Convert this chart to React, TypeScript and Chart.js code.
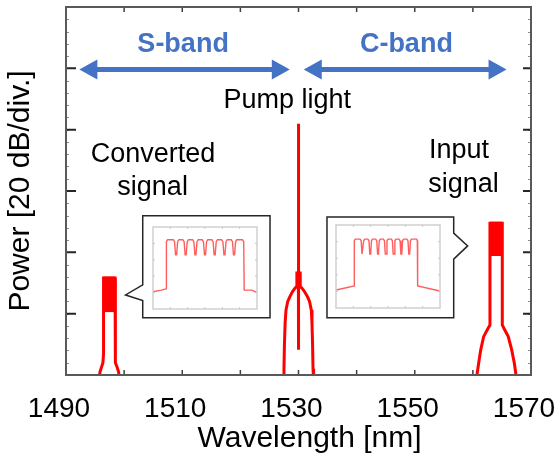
import React, { useEffect, useRef } from 'react';
import { Chart, registerables } from 'chart.js';

Chart.register(...registerables);

const FONT = '"Liberation Sans", Arial, Helvetica, sans-serif';
const RED = '#ff0000';
const BLUE = '#4472c4';

// ---- axis definition ----
const xTickValues = [1490, 1500, 1510, 1520, 1530, 1540, 1550, 1560, 1570];
const xTickLabels = ['1490', '1510', '1530', '1550', '1570'];
const yTickValues = [0, 20, 40, 60, 80, 100, 120];
const yMinorStep = 4;
const xTitle = 'Wavelength [nm]';
const xTitleWl = 1531.9;
const xTitlePow = -23.5;

// ---- converted signal (S-band) ----
const convWl = [1495.65, 1495.85, 1496.1, 1496.35, 1496.46, 1496.46, 1498.44, 1498.44, 1498.55, 1498.8, 1499.05, 1499.25];
const convPow = [-2, 1, 2.5, 4, 7, 31.6, 31.6, 7, 4, 2.5, 1, -2];
const convCombWl = [1496.46, 1498.44];
const convCombTop = [31.6, 31.6];
const convCombBottom = [21.0, 21.0];

// ---- pump light ----
const pumpWl = [1527.4, 1527.5, 1527.58, 1527.7, 1527.85, 1528.15, 1528.5, 1529.0, 1529.4, 1529.7, 1529.72, 1529.98, 1529.99, 1530.01, 1530.02, 1530.28, 1530.3, 1530.6, 1531.0, 1531.55, 1531.9, 1532.2, 1532.32, 1532.42, 1532.5, 1532.6];
const pumpPow = [-2, 2, 10, 17, 21.2, 24, 25.5, 27.3, 28.3, 28.9, 33.3, 33.3, 81.9, 8.2, 33.3, 33.3, 28.9, 28.3, 27.3, 25.5, 24, 21.2, 17, 10, 2, -2];

// ---- input signal (C-band) ----
const inWl = [1560.65, 1560.75, 1561.0, 1561.35, 1561.85, 1562.55, 1562.94, 1562.94, 1565.06, 1565.06, 1565.4, 1566.09, 1566.68, 1567.13, 1567.37, 1567.45];
const inPow = [-2, 0.65, 3.9, 8.2, 12.5, 15, 16.3, 49.5, 49.5, 16.3, 15, 12.5, 8.2, 3.9, 0.65, -2];
const inCombWl = [1562.94, 1565.06];
const inCombTop = [49.5, 49.5];
const inCombBottom = [39.3, 39.3];

// ---- band arrows ----
const bandNames = ['S-band', 'C-band'];
const bandFrom = [1492.3, 1530.9];
const bandTo = [1528.5, 1565.8];
const bandLevel = 99.6;
const bandLabelWl = [1510.15, 1548.56];
const bandLabelPow = 105.4;

// ---- annotation texts ----
const noteTexts = ['Pump light', 'Converted', 'signal', 'Input', 'signal'];
const noteWl = [1528.06, 1504.98, 1504.9, 1557.6, 1558.4];
const notePow = [87.1, 69.5, 58.8, 70.9, 59.6];

// ---- inset callouts (data coords of main chart) ----
const convBoxWl = [1503.2, 1525.1];
const convBoxPow = [51.9, 18.7];
const convPointer = { wl: 1500.25, pow: 26.1, notchTop: 29.4, notchBottom: 24.25 };
const convFrameWl = [1505.0, 1522.9];
const convFramePow = [48.4, 21.5];

const inBoxWl = [1534.9, 1556.7];
const inBoxPow = [51.5, 18.7];
const inPointer = { wl: 1559.1, pow: 42.1, notchTop: 46.25, notchBottom: 37.8 };
const inFrameWl = [1536.4, 1554.3];
const inFramePow = [49.0, 21.9];

// ---- inset spectra (relative units 0..10) ----
const convInsetX = [0, 0.8, 1.25, 1.29, 1.4, 1.95, 2.07, 2.17, 2.27, 2.37, 2.49, 2.87, 2.99, 3.09, 3.19, 3.29, 3.41, 3.81, 3.93, 4.03, 4.13, 4.23, 4.35, 4.73, 4.85, 4.95, 5.05, 5.15, 5.27, 5.66, 5.78, 5.88, 5.98, 6.08, 6.2, 6.6, 6.72, 6.82, 6.92, 7.02, 7.14, 7.52, 7.64, 7.74, 7.84, 7.94, 8.06, 8.6, 8.72, 8.77, 9.5, 10];
const convInsetY = [2.1, 2.3, 2.45, 8.2, 8.45, 8.45, 8.2, 6.6, 6.6, 8.2, 8.45, 8.45, 8.2, 6.6, 6.6, 8.2, 8.45, 8.45, 8.2, 6.6, 6.6, 8.2, 8.45, 8.45, 8.2, 6.6, 6.6, 8.2, 8.45, 8.45, 8.2, 6.6, 6.6, 8.2, 8.45, 8.45, 8.2, 6.6, 6.6, 8.2, 8.45, 8.45, 8.2, 6.6, 6.6, 8.2, 8.45, 8.45, 8.2, 2.3, 2.3, 2.0];

const inInsetX = [0, 1.76, 1.76, 1.85, 2.32, 2.42, 2.5, 2.58, 2.66, 2.76, 3.07, 3.17, 3.25, 3.33, 3.41, 3.51, 3.82, 3.92, 4.0, 4.08, 4.16, 4.26, 4.56, 4.66, 4.74, 4.82, 4.9, 5.0, 5.32, 5.42, 5.5, 5.58, 5.66, 5.76, 6.06, 6.16, 6.24, 6.32, 6.4, 6.5, 6.82, 6.92, 7.0, 7.08, 7.16, 7.26, 7.75, 7.82, 7.85, 10];
const inInsetY = [2.17, 2.65, 8.1, 8.3, 8.3, 8.1, 6.5, 6.5, 8.1, 8.3, 8.3, 8.1, 6.5, 6.5, 8.1, 8.3, 8.3, 8.1, 6.5, 6.5, 8.1, 8.3, 8.3, 8.1, 6.5, 6.5, 8.1, 8.3, 8.3, 8.1, 6.5, 6.5, 8.1, 8.3, 8.3, 8.1, 6.5, 6.5, 8.1, 8.3, 8.3, 8.1, 6.5, 6.5, 8.1, 8.3, 8.3, 8.1, 2.65, 2.05];
const insetTickX = [1.67, 3.33, 5, 6.67, 8.33];
const insetTickY = [2, 4, 6, 8];

const pts = (xs: number[], ys: number[]) => xs.map((x, i) => ({ x, y: ys[i] }));

const lineDs = (label: string, data: any[], extra: any = {}) => ({
  label,
  data,
  showLine: true,
  borderColor: RED,
  backgroundColor: RED,
  borderWidth: 3,
  pointRadius: 0,
  tension: 0,
  fill: false,
  clip: 0,
  ...extra,
});

const framePlugin = {
  id: 'frameTicks',
  afterDraw(chart: any) {
    const { ctx, chartArea: a, scales } = chart;
    const xs = scales.x, ys = scales.y;
    ctx.save();
    ctx.strokeStyle = '#8c8c8c';
    ctx.lineWidth = 1;
    for (let v = yTickValues[0]; v <= yTickValues[yTickValues.length - 1]; v += yMinorStep) {
      const y = Math.round(ys.getPixelForValue(v)) + 0.5;
      ctx.beginPath();
      ctx.moveTo(a.left, y); ctx.lineTo(a.left + 3, y);
      ctx.moveTo(a.right, y); ctx.lineTo(a.right - 3, y);
      ctx.stroke();
    }
    ctx.strokeStyle = '#262626';
    ctx.lineWidth = 2;
    yTickValues.forEach((v) => {
      const y = ys.getPixelForValue(v);
      ctx.beginPath();
      ctx.moveTo(a.left, y); ctx.lineTo(a.left + 10, y);
      ctx.moveTo(a.right, y); ctx.lineTo(a.right - 8, y);
      ctx.stroke();
    });
    ctx.strokeStyle = '#404040';
    ctx.lineWidth = 1.5;
    xTickValues.forEach((v) => {
      const x = xs.getPixelForValue(v);
      ctx.beginPath();
      ctx.moveTo(x, a.bottom); ctx.lineTo(x, a.bottom - 5);
      ctx.moveTo(x, a.top); ctx.lineTo(x, a.top + 5);
      ctx.stroke();
    });
    ctx.strokeStyle = '#595959';
    ctx.lineWidth = 2;
    ctx.strokeRect(a.left, a.top, a.right - a.left, a.bottom - a.top);

    // x axis title
    ctx.fillStyle = '#000';
    ctx.font = `30px ${FONT}`;
    ctx.textAlign = 'center';
    ctx.textBaseline = 'alphabetic';
    ctx.fillText(xTitle, xs.getPixelForValue(xTitleWl), ys.getPixelForValue(xTitlePow));
    ctx.restore();
  },
};

const annotationPlugin = {
  id: 'annotations',
  afterDatasetsDraw(chart: any) {
    const { ctx, scales } = chart;
    const xs = scales.x, ys = scales.y;
    const px = (v: number) => xs.getPixelForValue(v);
    const py = (v: number) => ys.getPixelForValue(v);
    ctx.save();
    ctx.fillStyle = BLUE;
    ctx.strokeStyle = BLUE;
    bandNames.forEach((name, i) => {
      const x1 = px(bandFrom[i]), x2 = px(bandTo[i]), y = py(bandLevel);
      const hl = 18, hw = 10;
      ctx.lineWidth = 5;
      ctx.beginPath();
      ctx.moveTo(x1 + hl - 2, y); ctx.lineTo(x2 - hl + 2, y);
      ctx.stroke();
      ctx.beginPath();
      ctx.moveTo(x1, y); ctx.lineTo(x1 + hl, y - hw); ctx.lineTo(x1 + hl, y + hw); ctx.closePath();
      ctx.fill();
      ctx.beginPath();
      ctx.moveTo(x2, y); ctx.lineTo(x2 - hl, y - hw); ctx.lineTo(x2 - hl, y + hw); ctx.closePath();
      ctx.fill();
      ctx.font = `bold 27px ${FONT}`;
      ctx.textAlign = 'center';
      ctx.textBaseline = 'alphabetic';
      ctx.fillText(name, px(bandLabelWl[i]), py(bandLabelPow));
    });
    ctx.fillStyle = '#000';
    ctx.font = `27px ${FONT}`;
    ctx.textAlign = 'center';
    ctx.textBaseline = 'alphabetic';
    noteTexts.forEach((t, i) => ctx.fillText(t, px(noteWl[i]), py(notePow[i])));

    ctx.fillStyle = '#fff';
    ctx.strokeStyle = '#262626';
    ctx.lineWidth = 1.5;
    {
      const L = px(convBoxWl[0]), R = px(convBoxWl[1]), T = py(convBoxPow[0]), B = py(convBoxPow[1]);
      ctx.beginPath();
      ctx.moveTo(L, T); ctx.lineTo(R, T); ctx.lineTo(R, B); ctx.lineTo(L, B);
      ctx.lineTo(L, py(convPointer.notchBottom));
      ctx.lineTo(px(convPointer.wl), py(convPointer.pow));
      ctx.lineTo(L, py(convPointer.notchTop));
      ctx.closePath();
      ctx.fill(); ctx.stroke();
    }
    {
      const L = px(inBoxWl[0]), R = px(inBoxWl[1]), T = py(inBoxPow[0]), B = py(inBoxPow[1]);
      ctx.beginPath();
      ctx.moveTo(L, T); ctx.lineTo(R, T);
      ctx.lineTo(R, py(inPointer.notchTop));
      ctx.lineTo(px(inPointer.wl), py(inPointer.pow));
      ctx.lineTo(R, py(inPointer.notchBottom));
      ctx.lineTo(R, B); ctx.lineTo(L, B);
      ctx.closePath();
      ctx.fill(); ctx.stroke();
    }
    ctx.restore();
  },
};

const insetFramePlugin = {
  id: 'insetFrame',
  afterDraw(chart: any) {
    const { ctx, chartArea: a, scales } = chart;
    ctx.save();
    ctx.strokeStyle = '#d0d0d0';
    ctx.lineWidth = 1.5;
    ctx.strokeRect(a.left, a.top, a.right - a.left, a.bottom - a.top);
    ctx.strokeStyle = '#c8c8c8';
    ctx.lineWidth = 1;
    insetTickX.forEach((v) => {
      const x = scales.x.getPixelForValue(v);
      ctx.beginPath();
      ctx.moveTo(x, a.top); ctx.lineTo(x, a.top + 2);
      ctx.moveTo(x, a.bottom); ctx.lineTo(x, a.bottom - 2);
      ctx.stroke();
    });
    insetTickY.forEach((v) => {
      const y = scales.y.getPixelForValue(v);
      ctx.beginPath();
      ctx.moveTo(a.left, y); ctx.lineTo(a.left + 2, y);
      ctx.moveTo(a.right, y); ctx.lineTo(a.right - 2, y);
      ctx.stroke();
    });
    ctx.restore();
  },
};

function makeInset(canvas: HTMLCanvasElement, xs: number[], ys: number[]) {
  return new Chart(canvas, {
    type: 'scatter',
    data: {
      datasets: [
        {
          data: pts(xs, ys),
          showLine: true,
          borderColor: 'rgba(255,40,40,0.75)',
          borderWidth: 1.4,
          pointRadius: 0,
          tension: 0,
          fill: false,
        } as any,
      ],
    },
    options: {
      responsive: false,
      animation: false,
      devicePixelRatio: 1,
      layout: { padding: 1 },
      plugins: { legend: { display: false }, tooltip: { enabled: false } },
      events: [],
      scales: {
        x: { type: 'linear', min: 0, max: 10, display: false },
        y: { type: 'linear', min: 0, max: 10, display: false },
      },
    },
    plugins: [insetFramePlugin],
  });
}

export default function App() {
  const mainRef = useRef<HTMLCanvasElement>(null);
  const convRef = useRef<HTMLCanvasElement>(null);
  const inRef = useRef<HTMLCanvasElement>(null);

  useEffect(() => {
    const main = new Chart(mainRef.current!, {
      type: 'scatter',
      data: {
        datasets: [
          lineDs('Converted signal', pts(convWl, convPow)),
          lineDs('Pump light', pts(pumpWl, pumpPow)),
          lineDs('Input signal', pts(inWl, inPow)),
          lineDs('Converted comb top', pts(convCombWl, convCombTop), { fill: '+1' }),
          lineDs('Converted comb bottom', pts(convCombWl, convCombBottom)),
          lineDs('Input comb top', pts(inCombWl, inCombTop), { fill: '+1' }),
          lineDs('Input comb bottom', pts(inCombWl, inCombBottom)),
        ] as any,
      },
      options: {
        responsive: false,
        animation: false,
        devicePixelRatio: 1,
        layout: { padding: { left: 0, right: 29, top: 7, bottom: 0 } },
        plugins: { legend: { display: false }, tooltip: { enabled: false } },
        events: [],
        scales: {
          x: {
            type: 'linear',
            min: 1490,
            max: 1570,
            afterBuildTicks: (scale: any) => {
              scale.ticks = xTickValues.map((v) => ({ value: v }));
            },
            afterFit: (scale: any) => {
              scale.height = 91;
              scale.paddingLeft = 0;
              scale.paddingRight = 0;
            },
            ticks: {
              autoSkip: false,
              maxRotation: 0,
              padding: 9,
              labelOffset: -7,
              color: '#000',
              font: { family: FONT, size: 28 },
              callback: (v: any) => (xTickLabels.includes(String(v)) ? String(v) : ''),
            },
            grid: { display: false },
            border: { display: false },
            title: { display: false },
          },
          y: {
            type: 'linear',
            min: 0,
            max: 120,
            afterBuildTicks: (scale: any) => {
              scale.ticks = yTickValues.map((v) => ({ value: v }));
            },
            afterFit: (scale: any) => {
              scale.width = 66;
            },
            ticks: { display: false },
            grid: { display: false },
            border: { display: false },
            title: {
              display: true,
              text: 'Power [20 dB/div.]',
              color: '#000',
              font: { family: FONT, size: 30 },
              padding: { top: 3, bottom: 0 },
            },
          },
        },
      },
      plugins: [framePlugin, annotationPlugin],
    } as any);

    const place = (cv: HTMLCanvasElement, wl: number[], pow: number[]) => {
      const xs = main.scales.x, ys = main.scales.y;
      const l = Math.round(xs.getPixelForValue(wl[0]));
      const r = Math.round(xs.getPixelForValue(wl[1]));
      const t = Math.round(ys.getPixelForValue(pow[0]));
      const b = Math.round(ys.getPixelForValue(pow[1]));
      cv.width = r - l + 2;
      cv.height = b - t + 2;
      cv.style.left = `${l - 1}px`;
      cv.style.top = `${t - 1}px`;
      cv.style.width = `${r - l + 2}px`;
      cv.style.height = `${b - t + 2}px`;
    };
    place(convRef.current!, convFrameWl, convFramePow);
    place(inRef.current!, inFrameWl, inFramePow);
    const a = makeInset(convRef.current!, convInsetX, convInsetY);
    const b = makeInset(inRef.current!, inInsetX, inInsetY);

    return () => {
      main.destroy();
      a.destroy();
      b.destroy();
    };
  }, []);

  return (
    <div style={{ position: 'absolute', left: 0, top: 0, width: 560, height: 466, background: '#fff' }}>
      <canvas ref={mainRef} width={560} height={466} style={{ position: 'absolute', left: 0, top: 0, width: 560, height: 466 }} />
      <canvas ref={convRef} style={{ position: 'absolute' }} />
      <canvas ref={inRef} style={{ position: 'absolute' }} />
    </div>
  );
}
